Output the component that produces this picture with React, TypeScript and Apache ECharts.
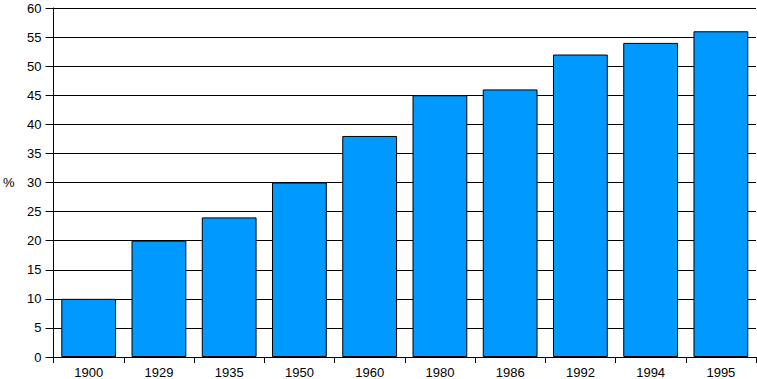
import React, { useEffect, useRef } from "react";
import * as echarts from "echarts";

const categories = ["1900", "1929", "1935", "1950", "1960", "1980", "1986", "1992", "1994", "1995"];
const values = [10, 20, 24, 30, 38, 45, 46, 52, 54, 56];
const yAxisName = "%";

export default function App() {
  const ref = useRef<HTMLDivElement>(null);
  useEffect(() => {
    document.body.style.margin = "0";
    const chart = echarts.init(ref.current!, null, { renderer: "svg" });
    const font = "'Liberation Sans', Arial, sans-serif";
    chart.setOption({
      animation: false,
      backgroundColor: "#ffffff",
      grid: { left: 51, right: 1, top: 8, bottom: 22, containLabel: false },
      xAxis: {
        type: "category",
        data: categories,
        boundaryGap: true,
        axisLine: { show: true, lineStyle: { color: "#000", width: 1 } },
        axisTick: { show: true, interval: 0, alignWithLabel: false, length: 6, lineStyle: { color: "#000" } },
        axisLabel: { color: "#000", fontSize: 13, fontFamily: font, margin: 9, interval: 0 },
      },
      yAxis: {
        type: "value",
        min: 0,
        max: 60,
        interval: 5,
        name: yAxisName,
        nameLocation: "middle",
        nameRotate: 0,
        nameGap: 39,
        nameTextStyle: { color: "#000", fontSize: 13, fontFamily: font },
        axisLine: { show: true, lineStyle: { color: "#000", width: 1 } },
        axisTick: { show: true, length: 8, lineStyle: { color: "#000" } },
        axisLabel: { color: "#000", fontSize: 13, fontFamily: font, margin: 12 },
        splitLine: { show: true, lineStyle: { color: "#000", width: 1, type: "solid" } },
      },
      series: [
        {
          type: "bar",
          data: values,
          barCategoryGap: "22%",
          itemStyle: { color: "#0099FF", borderColor: "#000", borderWidth: 1 },
        },
      ],
    });
    return () => chart.dispose();
  }, []);
  return <div ref={ref} style={{ width: 757, height: 379 }} />;
}
